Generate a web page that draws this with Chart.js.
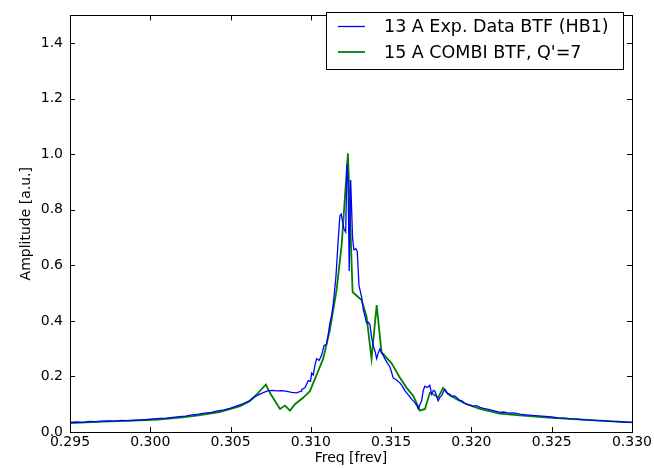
<!DOCTYPE html>
<html>
<head>
<meta charset="utf-8">
<script src="https://cdn.jsdelivr.net/npm/chart.js@4/dist/chart.umd.min.js"></script>
<style>
	html, body { margin: 0; padding: 0; background: #fff; }
	#wrap { width: 654px; height: 468px; }
</style>
</head>
<body>
<div id="wrap"><canvas id="btfChart" width="654" height="468"></canvas></div>
<script>
// measured BTF, 13 A
const blueFreq = [
	0.2950, 0.2954, 0.2958, 0.2962, 0.2966, 0.2970, 0.2974, 0.2978, 0.2982, 0.2986,
	0.2990, 0.2994, 0.2998, 0.3002, 0.3006, 0.3010, 0.3014, 0.3018, 0.3022, 0.3026,
	0.3030, 0.3034, 0.3038, 0.3042, 0.3046, 0.3050, 0.3054, 0.3058, 0.3061, 0.3064,
	0.3067, 0.3070, 0.3073, 0.3076, 0.3079, 0.3082, 0.3085, 0.3088, 0.3091, 0.3094,
	0.30943, 0.30963, 0.30984, 0.30998, 0.31005, 0.31015, 0.31026, 0.31036, 0.31052, 0.31067,
	0.31082, 0.31098, 0.31108, 0.31119, 0.31130, 0.31140, 0.31156, 0.31171, 0.31181, 0.31189,
	0.31200, 0.31206, 0.31217, 0.31225, 0.31232, 0.31239, 0.31248, 0.31260, 0.31268, 0.31280,
	0.31289, 0.31300, 0.31316, 0.31327, 0.31340, 0.31347, 0.31358, 0.31368, 0.31379, 0.31389,
	0.31400, 0.31410, 0.31420, 0.31430, 0.31440, 0.31451, 0.31461, 0.31475, 0.31492, 0.31503,
	0.31513, 0.31528, 0.31544, 0.31555, 0.31570, 0.31585, 0.31597, 0.31612, 0.31625, 0.31648,
	0.31660, 0.31669, 0.31680, 0.31690, 0.31700, 0.31710, 0.31725, 0.31741, 0.31752, 0.31763,
	0.31773, 0.31793, 0.31804, 0.31814, 0.31825, 0.31835, 0.31850, 0.31866, 0.31880, 0.31895,
	0.31908, 0.31925, 0.31940, 0.31955, 0.31970, 0.31990, 0.32010, 0.32030, 0.32053, 0.32075,
	0.32100, 0.32125, 0.32150, 0.32177, 0.32200, 0.32230, 0.32260, 0.32302, 0.32340, 0.32380,
	0.32420, 0.32460, 0.32500, 0.32540, 0.32580, 0.32620, 0.32660, 0.32700, 0.32740, 0.32780,
	0.32820, 0.32860, 0.32900, 0.32940, 0.32980, 0.33000
];
const blueAmp = [
	0.035, 0.036, 0.035, 0.038, 0.037, 0.039, 0.040, 0.039, 0.042, 0.041,
	0.043, 0.044, 0.045, 0.047, 0.049, 0.050, 0.053, 0.055, 0.057, 0.062,
	0.064, 0.068, 0.071, 0.076, 0.080, 0.086, 0.094, 0.102, 0.110, 0.122,
	0.133, 0.141, 0.148, 0.150, 0.148, 0.149, 0.146, 0.143, 0.141, 0.147,
	0.153, 0.159, 0.185, 0.182, 0.212, 0.205, 0.241, 0.264, 0.258, 0.276,
	0.311, 0.317, 0.350, 0.393, 0.422, 0.463, 0.557, 0.697, 0.779, 0.785,
	0.750, 0.732, 0.720, 0.966, 0.900, 0.580, 0.907, 0.697, 0.656, 0.660,
	0.650, 0.527, 0.487, 0.440, 0.410, 0.393, 0.395, 0.387, 0.340, 0.311,
	0.290, 0.264, 0.285, 0.299, 0.285, 0.276, 0.264, 0.250, 0.235, 0.215,
	0.194, 0.190, 0.182, 0.177, 0.165, 0.150, 0.141, 0.130, 0.120, 0.106,
	0.095, 0.083, 0.100, 0.112, 0.150, 0.165, 0.160, 0.168, 0.136, 0.150,
	0.147, 0.112, 0.125, 0.130, 0.145, 0.153, 0.140, 0.136, 0.128, 0.130,
	0.124, 0.115, 0.112, 0.105, 0.100, 0.098, 0.093, 0.095, 0.089, 0.085,
	0.082, 0.079, 0.075, 0.071, 0.072, 0.068, 0.069, 0.064, 0.062, 0.060,
	0.058, 0.056, 0.054, 0.051, 0.050, 0.047, 0.046, 0.044, 0.043, 0.041,
	0.040, 0.038, 0.037, 0.036, 0.035, 0.035
];

// COMBI simulation, 15 A
const greenFreq = [
	0.2950, 0.2970, 0.2990, 0.3005, 0.3020, 0.3030, 0.3043, 0.3056, 0.30621, 0.30672,
	0.3072, 0.30745, 0.30777, 0.30808, 0.30839, 0.3087, 0.30901, 0.30953, 0.30994, 0.31036,
	0.31077, 0.31119, 0.3116, 0.31192, 0.31231, 0.3126, 0.31316, 0.31347, 0.31378, 0.3141,
	0.3144, 0.31503, 0.3155, 0.31597, 0.31638, 0.3168, 0.31711, 0.31741, 0.31762, 0.31793,
	0.31824, 0.31855, 0.31908, 0.3197, 0.32053, 0.32177, 0.32302, 0.3250, 0.3275, 0.3300
];
const greenAmp = [
	0.032, 0.037, 0.041, 0.045, 0.053, 0.060, 0.072, 0.093, 0.112, 0.141,
	0.171, 0.141, 0.112, 0.083, 0.095, 0.077, 0.100, 0.124, 0.147, 0.206,
	0.264, 0.369, 0.510, 0.674, 1.003, 0.504, 0.475, 0.416, 0.264, 0.457,
	0.288, 0.247, 0.200, 0.159, 0.130, 0.077, 0.083, 0.141, 0.136, 0.124,
	0.159, 0.136, 0.118, 0.100, 0.083, 0.066, 0.060, 0.051, 0.043, 0.035
];

const xTicks = [0.295, 0.300, 0.305, 0.310, 0.315, 0.320, 0.325, 0.330];
const yTicks = [0.0, 0.2, 0.4, 0.6, 0.8, 1.0, 1.2, 1.4];

const seriesLabels = ["13 A Exp. Data BTF (HB1)", "15 A COMBI BTF, Q'=7"];

const FONT = "'DejaVu Sans', sans-serif";

function toPoints(xs, ys) {
	return xs.map((x, i) => ({ x: x, y: ys[i] }));
}

// frame + inward ticks on all four sides, matplotlib style
const frameTicks = {
	id: "frameTicks",
	afterDraw(chart) {
		const { ctx, chartArea: a, scales } = chart;
		ctx.save();
		ctx.strokeStyle = "#000";
		ctx.lineWidth = 1;
		const len = 5;
		ctx.beginPath();
		xTicks.forEach((v) => {
			const px = Math.round(scales.x.getPixelForValue(v)) + 0.5;
			ctx.moveTo(px, a.bottom);
			ctx.lineTo(px, a.bottom - len);
			ctx.moveTo(px, a.top);
			ctx.lineTo(px, a.top + len);
		});
		yTicks.forEach((v) => {
			const py = Math.round(scales.y.getPixelForValue(v)) + 0.5;
			ctx.moveTo(a.left, py);
			ctx.lineTo(a.left + len, py);
			ctx.moveTo(a.right, py);
			ctx.lineTo(a.right - len, py);
		});
		ctx.stroke();
		ctx.strokeRect(Math.round(a.left) + 0.5, Math.round(a.top) + 0.5,
			Math.round(a.right - a.left), Math.round(a.bottom - a.top));
		ctx.restore();
	},
};

// legend box in the upper right corner
const boxLegend = {
	id: "boxLegend",
	afterDraw(chart) {
		const { ctx } = chart;
		const bx = 326.5, by = 12.5, bw = 297, bh = 57;
		ctx.save();
		ctx.fillStyle = "#fff";
		ctx.fillRect(bx, by, bw, bh);
		ctx.strokeStyle = "#000";
		ctx.lineWidth = 1;
		ctx.strokeRect(bx, by, bw, bh);
		ctx.font = "17.5px " + FONT;
		ctx.textBaseline = "middle";
		ctx.textAlign = "left";
		chart.data.datasets.forEach((ds, i) => {
			const y = 26.5 + i * 25.5;
			ctx.strokeStyle = ds.borderColor;
			ctx.lineWidth = ds.borderWidth;
			ctx.beginPath();
			ctx.moveTo(338, y);
			ctx.lineTo(365, y);
			ctx.stroke();
			ctx.fillStyle = "#000";
			ctx.fillText(ds.label, 384, y + 1);
		});
		ctx.restore();
	},
};

new Chart(document.getElementById("btfChart").getContext("2d"), {
	type: "line",
	data: {
		datasets: [
			{
				label: seriesLabels[0],
				data: toPoints(blueFreq, blueAmp),
				borderColor: "#0000ff",
				borderWidth: 1.3,
				pointRadius: 0,
				fill: false,
				tension: 0,
			},
			{
				label: seriesLabels[1],
				data: toPoints(greenFreq, greenAmp),
				borderColor: "#008000",
				borderWidth: 1.8,
				pointRadius: 0,
				fill: false,
				tension: 0,
			},
		],
	},
	options: {
		responsive: false,
		animation: false,
		layout: { padding: { top: 4, right: 22, left: 0, bottom: 0 } },
		plugins: {
			legend: { display: false },
			tooltip: { enabled: false },
		},
		scales: {
			x: {
				type: "linear",
				min: 0.295,
				max: 0.330,
				afterBuildTicks: (axis) => {
					axis.ticks = xTicks.map((v) => ({ value: v }));
				},
				afterFit: (axis) => {
					axis.height = 36;
				},
				grid: { display: false, drawTicks: false },
				border: { display: false },
				ticks: {
					color: "#000",
					padding: 2,
					maxRotation: 0,
					autoSkip: false,
					font: { family: FONT, size: 14 },
					callback: (v) => v.toFixed(3),
				},
				title: {
					display: true,
					text: "Freq [frev]",
					color: "#000",
					font: { family: FONT, size: 14 },
					padding: { top: 0, bottom: 1 },
				},
			},
			y: {
				type: "linear",
				min: 0,
				max: 1.5,
				afterBuildTicks: (axis) => {
					axis.ticks = yTicks.map((v) => ({ value: v }));
				},
				afterFit: (axis) => {
					axis.width = 70;
				},
				grid: { display: false, drawTicks: false },
				border: { display: false },
				ticks: {
					color: "#000",
					padding: 7,
					autoSkip: false,
					font: { family: FONT, size: 14 },
					callback: (v) => v.toFixed(1),
				},
				title: {
					display: true,
					text: "Amplitude [a.u.]",
					color: "#000",
					font: { family: FONT, size: 14 },
					padding: { top: 18, bottom: 0 },
				},
			},
		},
	},
	plugins: [frameTicks, boxLegend],
});
</script>
</body>
</html>
